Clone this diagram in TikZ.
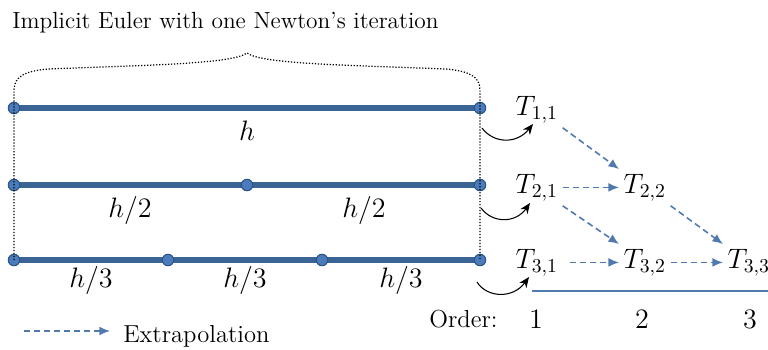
\RequirePackage{fix-cm}
\documentclass[tikz,border=0pt]{standalone}
\usepackage{fontspec}
\usepackage{xcolor}
\usetikzlibrary{arrows.meta,positioning,calc,backgrounds}
\definecolor{cStep}{HTML}{3A6494}
\definecolor{cDot}{HTML}{4A7CBB}
\definecolor{cDotRim}{HTML}{2E5486}
\definecolor{cExtra}{HTML}{5079AE}
\tikzset{
  seg/.style  = {draw=cStep, line width=3.4pt},
  pt/.style   = {circle, fill=cDot, draw=cDotRim, line width=0.6pt, inner sep=0pt,
                 minimum size=0.23cm},
  brc/.style  = {densely dotted, line width=0.7pt, draw=black},
  lbl/.style  = {anchor=base, inner sep=0pt, font=\fontsize{16}{19}\selectfont},
  tab/.style  = {anchor=base west, inner sep=2.5pt, font=\fontsize{16}{19}\selectfont},
  ex/.style   = {-{Latex[length=6pt,width=5pt]}, draw=cExtra, dash pattern=on 3.5pt off 2.2pt,
                 line width=0.9pt},
  fb/.style   = {-{Stealth[length=6pt,width=5pt]}, draw=black, line width=0.6pt},
  ord/.style  = {draw=cExtra, line width=1.2pt},
  txt/.style  = {inner sep=0pt, font=\fontsize{14}{17}\selectfont},
}

\begin{document}
\begin{tikzpicture}[x=0.02cm, y=-0.02cm]
  \useasboundingbox (0,0) rectangle (768,349);

  \node[inner sep=0pt, anchor=base west] (title) at (12,28)
    {\fontsize{13.3}{16}\selectfont Implicit Euler with one Newton’s iteration};

  % step points
  \node[pt] (a0) at (14,108) {};  \node[pt] (a1) at (480,108) {};
  \node[pt] (b0) at (14,185) {};  \node[pt] (b1) at (247,185) {};
  \node[pt] (b2) at (480,185) {};
  \node[pt] (c0) at (14,260) {};  \node[pt] (c1) at (168,260) {};
  \node[pt] (c2) at (322,260) {}; \node[pt] (c3) at (480,260) {};

  \begin{pgfonlayer}{background}
    \draw[seg] (a0.center) -- (a1.center);
    \draw[seg] (b0.center) -- (b2.center);
    \draw[seg] (c0.center) -- (c3.center);
  \end{pgfonlayer}

  \node[lbl] (h1)  at (247,140) {$h$};
  \node[lbl] (h21) at (130,217) {$h/2$};
  \node[lbl] (h22) at (364,217) {$h/2$};
  \node[lbl] (h31) at (91,287)  {$h/3$};
  \node[lbl] (h32) at (245,287) {$h/3$};
  \node[lbl] (h33) at (401,287) {$h/3$};

  % dotted brace
  \coordinate (bl) at (14,90);
  \coordinate (br) at (480,90);
  \coordinate (tip) at (247,53);
  \draw[brc] (c0.center) -- (bl) .. controls (14,76) and (26,71) .. (48,69)
    .. controls (150,65) and (232,64) .. (tip)
    .. controls (262,64) and (344,65) .. (446,69)
    .. controls (468,71) and (480,76) .. (br) -- (c3.center);

  % extrapolation table
  \node[tab] (t11) at (511,115) {$T_{1,1}$};
  \node[tab] (t21) at (511,193) {$T_{2,1}$};
  \node[tab] (t31) at (511,268) {$T_{3,1}$};
  \node[tab] (t22) at (619,193) {$T_{2,2}$};
  \node[tab] (t32) at (619,268) {$T_{3,2}$};
  \node[tab] (t33) at (723,268) {$T_{3,3}$};

  \draw[ex] (t11.south east) -- (t22.north west);
  \draw[ex] (t21.east) -- (t22.west);
  \draw[ex] (t21.south east) -- (t32.north west);
  \draw[ex, shorten <=4pt] (t31.east) -- (t32.west);
  \draw[ex] (t22.south east) -- (t33.north west);
  \draw[ex] (t32.east) -- (t33.west);

  % results handed to the table
  \coordinate (s1) at (482,128); \coordinate (e1) at (533,124);
  \coordinate (s2) at (481,208); \coordinate (e2) at (530,203);
  \coordinate (s3) at (477,282); \coordinate (e3) at (529,277);
  \draw[fb] (s1) .. controls +(12,16) and +(-16,20) .. (e1);
  \draw[fb] (s2) .. controls +(12,16) and +(-14,20) .. (e2);
  \draw[fb] (s3) .. controls +(10,16) and +(-16,22) .. (e3);

  % order axis
  \coordinate (o0) at (532,291);
  \coordinate (o1) at (768,291);
  \draw[ord] (o0) -- (o1);
  \node[txt, anchor=base west] (ordr) at (429,327) {Order:};
  \node[lbl] (n1) at (536,328) {$1$};
  \node[lbl] (n2) at (642,328) {$2$};
  \node[lbl] (n3) at (750,328) {$3$};

  % legend
  \coordinate (k0) at (24,331);
  \coordinate (k1) at (110,331);
  \draw[ex] (k0) -- (k1);
  \node[txt, anchor=base west] (leg) at (123,342) {Extrapolation};
\end{tikzpicture}
\end{document}
